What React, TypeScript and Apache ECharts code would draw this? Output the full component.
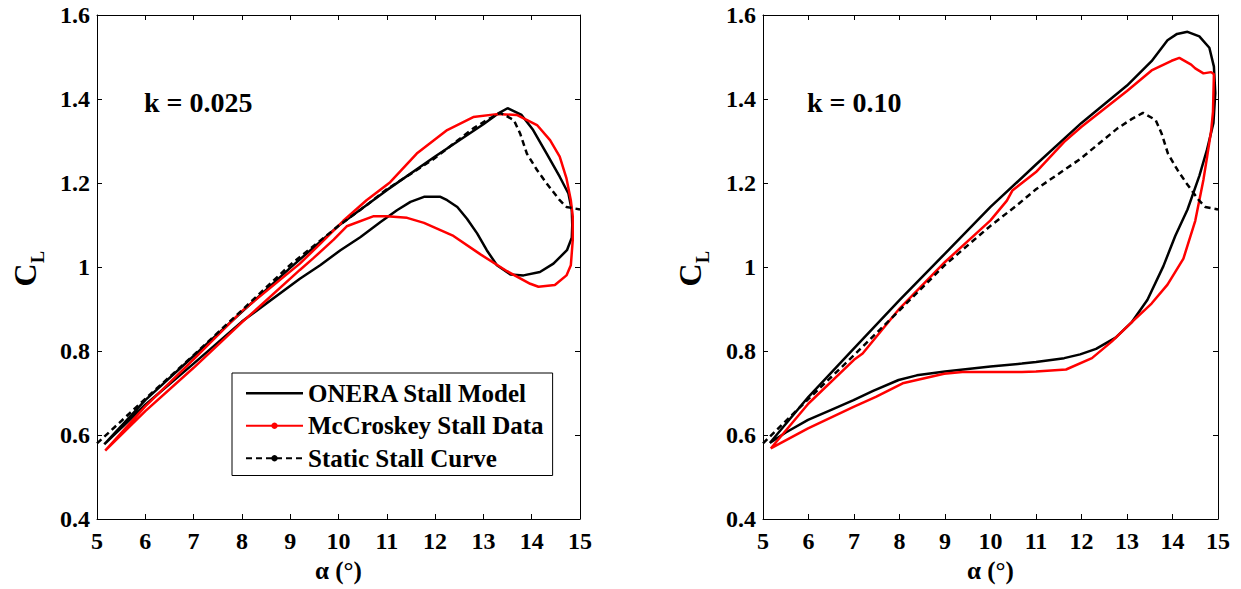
import React, { useEffect, useRef } from "react";
import * as echarts from "echarts";

// ---------- data ----------
const X_TICKS_MIN = 5;
const X_TICKS_MAX = 15;
const Y_MIN = 0.4;
const Y_MAX = 1.6;

const STATIC_ALPHA = [5.0, 6.0, 7.0, 8.0, 9.0, 10.0, 10.58, 11.0, 11.97, 12.79, 13.1, 13.35, 13.63, 13.76, 13.9, 14.11, 14.31, 14.58, 14.72, 15.0];
const STATIC_CL = [0.58, 0.686, 0.79, 0.897, 1.005, 1.098, 1.147, 1.185, 1.257, 1.33, 1.352, 1.367, 1.35, 1.318, 1.27, 1.231, 1.199, 1.159, 1.143, 1.137];

// k = 0.025
const L_ONERA_ALPHA = [5.15, 6, 7, 8, 9, 10, 11, 12, 13, 13.3, 13.5, 13.79, 14.03, 14.31, 14.58, 14.76, 14.83, 14.84, 14.83, 14.73, 14.45, 14.17, 13.83, 13.56, 13.28, 13.07, 12.87, 12.66, 12.46, 12.25, 12.11, 11.77, 11.49, 11.21, 10.87, 10.45, 10.04, 9.62, 9.2, 8, 7, 6, 5.15];
const L_ONERA_CL = [0.578, 0.683, 0.788, 0.893, 0.998, 1.098, 1.183, 1.263, 1.34, 1.365, 1.378, 1.362, 1.326, 1.27, 1.215, 1.175, 1.135, 1.1, 1.07, 1.04, 1.008, 0.988, 0.98, 0.982, 1.004, 1.04, 1.08, 1.115, 1.143, 1.159, 1.167, 1.167, 1.155, 1.135, 1.107, 1.071, 1.04, 1.004, 0.972, 0.87, 0.77, 0.672, 0.578];
const L_MCC_ALPHA = [5.17, 6, 7, 8, 9.2, 9.62, 10.1, 10.58, 11.07, 11.62, 12.25, 12.79, 13.28, 13.69, 14.11, 14.38, 14.58, 14.72, 14.81, 14.85, 14.85, 14.81, 14.72, 14.48, 14.14, 13.97, 13.49, 12.94, 12.38, 11.77, 11.42, 11.0, 10.73, 10.17, 9.9, 9.48, 9.2, 8, 7, 6, 5.17];
const L_MCC_CL = [0.563, 0.668, 0.78, 0.895, 1.008, 1.055, 1.11, 1.159, 1.202, 1.27, 1.326, 1.357, 1.364, 1.362, 1.338, 1.302, 1.263, 1.211, 1.159, 1.12, 1.064, 1.004, 0.98, 0.957, 0.953, 0.96, 0.99, 1.03, 1.074, 1.105, 1.117, 1.121, 1.121, 1.097, 1.065, 1.021, 0.993, 0.868, 0.76, 0.657, 0.563];

// k = 0.10
const R_ONERA_ALPHA = [5.15, 6, 7, 8, 9, 10, 11, 12, 13, 13.54, 13.89, 14.1, 14.33, 14.59, 14.81, 14.91, 14.94, 14.9, 14.76, 14.59, 14.33, 14.06, 13.8, 13.45, 13.1, 12.75, 12.32, 11.97, 11.62, 11.0, 10.69, 10.0, 9.0, 8.38, 7.98, 7.42, 6.99, 6.5, 5.99, 5.5, 5.15];
const R_ONERA_CL = [0.581, 0.691, 0.806, 0.921, 1.032, 1.143, 1.244, 1.343, 1.432, 1.49, 1.54, 1.555, 1.56, 1.549, 1.522, 1.477, 1.414, 1.343, 1.28, 1.217, 1.137, 1.074, 1.002, 0.922, 0.868, 0.832, 0.805, 0.792, 0.783, 0.774, 0.77, 0.763, 0.751, 0.742, 0.731, 0.705, 0.683, 0.66, 0.636, 0.606, 0.581];
const R_MCC_ALPHA = [5.17, 6, 7.0, 7.19, 8, 9, 10, 10.36, 10.48, 11, 11.62, 12, 13, 13.54, 13.98, 14.15, 14.41, 14.5, 14.68, 14.85, 14.91, 14.89, 14.85, 14.76, 14.68, 14.5, 14.24, 13.89, 13.54, 13.1, 12.67, 12.23, 11.66, 11.0, 10.69, 9.38, 8.98, 8.07, 7.48, 6.99, 5.99, 5.17];
const R_MCC_CL = [0.568, 0.675, 0.779, 0.794, 0.901, 1.012, 1.111, 1.158, 1.182, 1.226, 1.298, 1.334, 1.419, 1.468, 1.491, 1.498, 1.482, 1.473, 1.461, 1.464, 1.459, 1.37, 1.325, 1.262, 1.208, 1.11, 1.02, 0.958, 0.913, 0.868, 0.823, 0.783, 0.756, 0.751, 0.75, 0.75, 0.746, 0.723, 0.691, 0.667, 0.616, 0.568];

const SERIES_NAMES = ["ONERA Stall Model", "McCroskey Stall Data", "Static Stall Curve"];
const PANEL_LABELS = ["k = 0.025", "k = 0.10"];
const X_NAME = "α (°)";

const zip = (a: number[], b: number[]) => a.map((v, i) => [v, b[i]]);

const FONT = "'Liberation Serif', 'Times New Roman', serif";

export default function App() {
  const ref = useRef<HTMLDivElement>(null);
  useEffect(() => {
    if (!ref.current) return;
    const chart = echarts.init(ref.current, undefined, { renderer: "svg" });

    const labelStyle = { fontFamily: FONT, fontWeight: "bold" as const, fontSize: 24, color: "#000" };
    const mkX = (grid: number, pos: "bottom" | "top") => ({
      type: "value",
      gridIndex: grid,
      position: pos,
      min: X_TICKS_MIN,
      max: X_TICKS_MAX,
      interval: 1,
      axisLine: { show: true, onZero: false, lineStyle: { color: "#000", width: 1 } },
      axisTick: { show: true, inside: true, length: 5, lineStyle: { color: "#000" } },
      axisLabel: pos === "bottom" ? { show: true, margin: 10, ...labelStyle } : { show: false },
      splitLine: { show: false },
      name: pos === "bottom" ? X_NAME : "",
      nameLocation: "middle",
      nameGap: 38,
      nameTextStyle: { fontFamily: FONT, fontWeight: "bold", fontSize: 25, color: "#000" },
    });
    const mkY = (grid: number, pos: "left" | "right") => ({
      type: "value",
      gridIndex: grid,
      position: pos,
      min: Y_MIN,
      max: Y_MAX,
      interval: 0.2,
      axisLine: { show: true, onZero: false, lineStyle: { color: "#000", width: 1 } },
      axisTick: { show: true, inside: true, length: 5, lineStyle: { color: "#000" } },
      axisLabel:
        pos === "left"
          ? { show: true, margin: 7, ...labelStyle, formatter: (v: number) => String(Math.round(v * 10) / 10) }
          : { show: false },
      splitLine: { show: false },
    });

    const line = (name: string, data: number[][], ax: number, color: string, dashed: boolean, sym: boolean) => ({
      type: "line",
      name,
      data,
      xAxisIndex: ax,
      yAxisIndex: ax,
      symbol: sym ? "circle" : "none",
      showSymbol: false,
      symbolSize: 5,
      smooth: false,
      itemStyle: { color },
      lineStyle: { color, width: 2.5, type: dashed ? [6, 4] : "solid" },
      z: dashed ? 4 : color === "#000" ? 2 : 3,
    });

    const textEl = (text: string, x: number, y: number, size: number, rot = 0) => ({
      type: "text",
      x,
      y,
      rotation: rot,
      style: {
        text,
        fontFamily: FONT,
        fontWeight: "bold",
        fontSize: size,
        fill: "#000",
        align: rot ? "center" : "left",
        verticalAlign: "middle",
      },
    });

    const option: any = {
      animation: false,
      backgroundColor: "#fff",
      grid: [
        { left: 97, top: 15, width: 483, height: 504 },
        { left: 763, top: 15, width: 455, height: 504 },
      ],
      xAxis: [mkX(0, "bottom"), mkX(0, "top"), mkX(1, "bottom"), mkX(1, "top")],
      yAxis: [mkY(0, "left"), mkY(0, "right"), mkY(1, "left"), mkY(1, "right")],
      legend: {
        data: [
          { name: SERIES_NAMES[0], icon: "path://M0,0H57V2.5H0Z" },
          { name: SERIES_NAMES[1] },
          { name: SERIES_NAMES[2] },
        ],
        orient: "vertical",
        left: 232,
        top: 373,
        padding: [7, 9, 4, 13],
        itemGap: 6,
        itemWidth: 57,
        itemHeight: 8,
        borderColor: "#000",
        borderWidth: 1,
        backgroundColor: "#fff",
        selectedMode: false,
        textStyle: { fontFamily: FONT, fontWeight: "bold", fontSize: 25, lineHeight: 26.5, color: "#000" },
      },
      graphic: [
        textEl(PANEL_LABELS[0], 144, 102, 28),
        textEl(PANEL_LABELS[1], 807, 102, 28),
        textEl("C", 25, 275, 32, Math.PI / 2),
        textEl("L", 38, 257, 18, Math.PI / 2),
        textEl("C", 690, 275, 32, Math.PI / 2),
        textEl("L", 703, 257, 18, Math.PI / 2),
      ],
      series: [
        line(SERIES_NAMES[0], zip(L_ONERA_ALPHA, L_ONERA_CL), 0, "#000", false, false),
        line(SERIES_NAMES[1], zip(L_MCC_ALPHA, L_MCC_CL), 0, "#ff0000", false, true),
        line(SERIES_NAMES[2], zip(STATIC_ALPHA, STATIC_CL), 0, "#000", true, true),
        line(SERIES_NAMES[0], zip(R_ONERA_ALPHA, R_ONERA_CL), 2, "#000", false, false),
        line(SERIES_NAMES[1], zip(R_MCC_ALPHA, R_MCC_CL), 2, "#ff0000", false, true),
        line(SERIES_NAMES[2], zip(STATIC_ALPHA, STATIC_CL), 2, "#000", true, true),
      ],
    };
    chart.setOption(option);
    return () => chart.dispose();
  }, []);

  return (
    <div
      ref={ref}
      style={{ position: "absolute", left: 0, top: 0, width: 1241, height: 589, background: "#fff" }}
    />
  );
}
